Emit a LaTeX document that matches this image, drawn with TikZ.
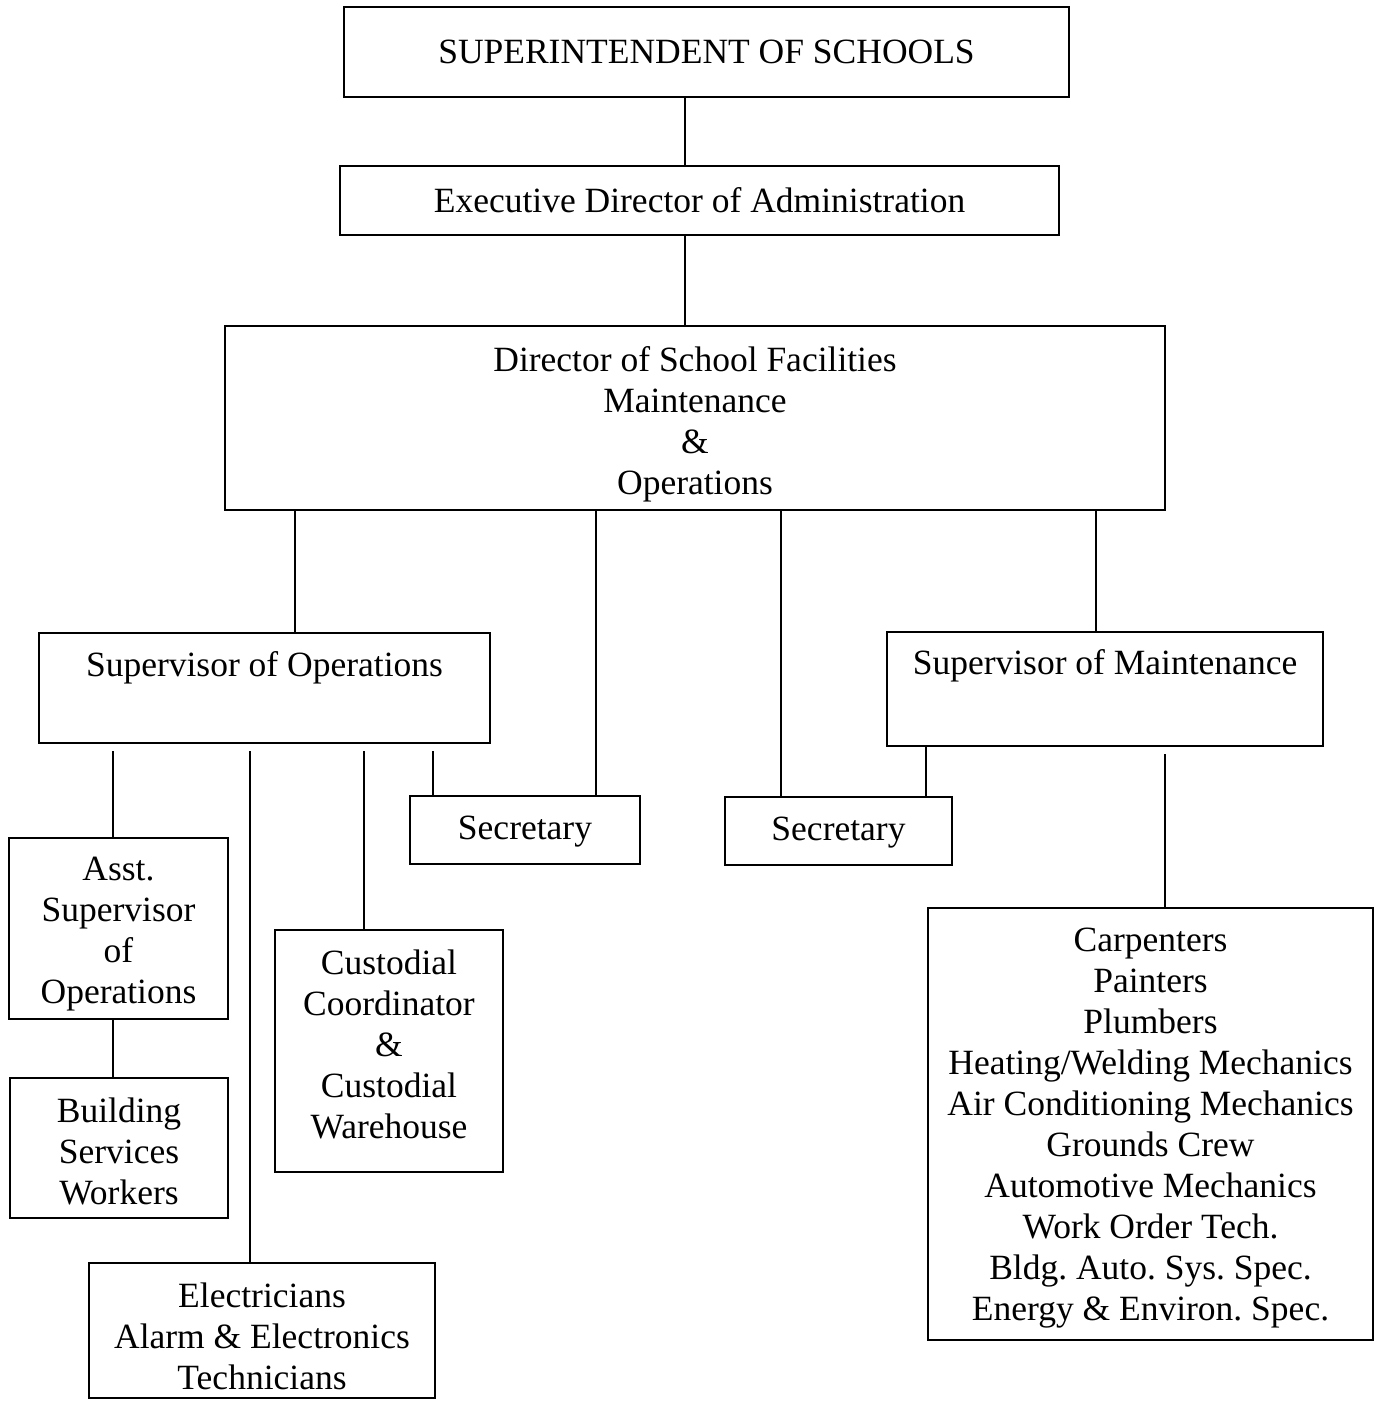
\documentclass[tikz,border=0pt]{standalone}
\usepackage{fontspec}
\setmainfont{Liberation Serif}
\frenchspacing
\begin{document}
\begin{tikzpicture}[x=0.5pt,y=-0.5pt,
  box/.style={draw,line width=1pt,inner sep=0pt,align=center,
    font=\fontsize{17.75pt}{20.5pt}\selectfont},
  txt/.style={inner sep=0pt,align=center,font=\fontsize{17.75pt}{20.5pt}\selectfont},
  link/.style={line width=1pt},
  gap/.style={link,shorten <=3.5pt}]
\useasboundingbox (0,0) rectangle (1375,1401);

\node[box,minimum width=362.5pt,minimum height=45pt] (sup) at (706.5,52) {SUPERINTENDENT OF SCHOOLS};
\node[box,minimum width=359.5pt,minimum height=34.5pt] (exec) at (699.5,200.5) {Executive Director of Administration};
\node[box,minimum width=470pt,minimum height=92pt] (dir) at (695,418) {};
\node[txt] (dirt) at (695,424) {Director of School Facilities\\Maintenance\\\&\\Operations};

\node[box,minimum width=225.5pt,minimum height=55pt] (supops) at (264.5,688) {};
\node[txt] (supopst) at (264.5,668) {Supervisor of Operations};
\node[box,minimum width=218pt,minimum height=57pt] (supmnt) at (1105,689) {};
\node[txt] (supmntt) at (1105,666) {Supervisor of Maintenance};

\node[box,minimum width=115pt,minimum height=34pt] (secl) at (525,830) {};
\node[txt] (seclt) at (525,832) {Secretary};
\node[box,minimum width=113.5pt,minimum height=34pt] (secr) at (838.5,831) {};
\node[txt] (secrt) at (838.5,833) {Secretary};

\node[box,minimum width=109.5pt,minimum height=90.5pt] (asst) at (118.5,928.5) {};
\node[txt] (asstt) at (118.5,934.5) {Asst.\\Supervisor\\of\\Operations};
\node[box,minimum width=109pt,minimum height=70pt] (build) at (119,1148) {};
\node[txt] (buildt) at (119,1151) {Building\\Services\\Workers};
\node[box,minimum width=114pt,minimum height=121pt] (cust) at (389,1051) {};
\node[txt] (custt) at (389,1044) {Custodial\\Coordinator\\\&\\Custodial\\Warehouse};
\node[box,minimum width=173pt,minimum height=67.5pt] (elec) at (262,1330.5) {};
\node[txt] (elect) at (262,1336) {Electricians\\Alarm \& Electronics\\Technicians};
\node[box,minimum width=222.5pt,minimum height=216pt] (trades) at (1150.5,1124) {};
\node[txt] (tradest) at (1150.5,1128) {Carpenters\\Painters\\Plumbers\\Heating/Welding Mechanics\\Air Conditioning Mechanics\\Grounds Crew\\Automotive Mechanics\\Work Order Tech.\\Bldg. Auto. Sys. Spec.\\Energy \& Environ. Spec.};

\coordinate (xa) at (685,0);
\coordinate (xb) at (295,0);
\coordinate (xc) at (596,0);
\coordinate (xd) at (781,0);
\coordinate (xe) at (1096,0);
\coordinate (xf) at (113,0);
\coordinate (xg) at (250,0);
\coordinate (xh) at (364,0);
\coordinate (xi) at (433,0);
\coordinate (xj) at (926,0);
\coordinate (xk) at (1165,0);

\draw[link] (sup.south -| xa) -- (exec.north -| xa);
\draw[link] (exec.south -| xa) -- (dir.north -| xa);
\draw[link] (dir.south -| xb) -- (supops.north -| xb);
\draw[link] (dir.south -| xc) -- (secl.north -| xc);
\draw[link] (dir.south -| xd) -- (secr.north -| xd);
\draw[link] (dir.south -| xe) -- (supmnt.north -| xe);
\draw[gap] (supops.south -| xf) -- (asst.north -| xf);
\draw[gap] (supops.south -| xg) -- (elec.north -| xg);
\draw[gap] (supops.south -| xh) -- (cust.north -| xh);
\draw[gap] (supops.south -| xi) -- (secl.north -| xi);
\draw[link] (supmnt.south -| xj) -- (secr.north -| xj);
\draw[gap] (supmnt.south -| xk) -- (trades.north -| xk);
\draw[link] (asst.south -| xf) -- (build.north -| xf);
\end{tikzpicture}
\end{document}
